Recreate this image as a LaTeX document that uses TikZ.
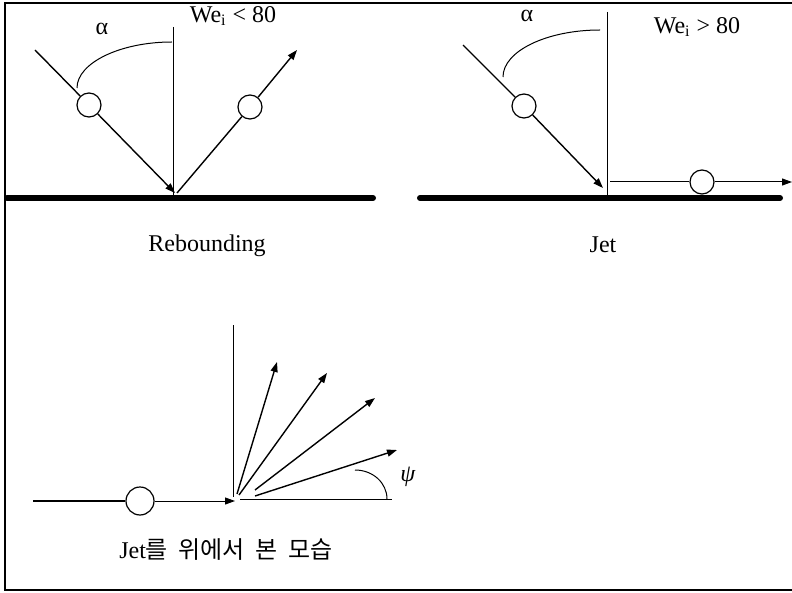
\documentclass[tikz,border=0pt]{standalone}
\usepackage{fontspec}
\setmainfont{Liberation Serif}
\newfontfamily\kofont{Noto Sans CJK KR}
\usepackage{tikz}
\usetikzlibrary{positioning,arrows.meta}

\begin{document}
\begin{tikzpicture}[x=0.5pt, y=-0.5pt,
    font=\fontsize{12}{14}\selectfont,
    drop/.style={draw, circle, minimum size=12pt, inner sep=0pt, line width=0.6pt},
    ground/.style={line width=3pt, line cap=round},
    path/.style={line width=0.7pt},
    axis/.style={line width=0.5pt},
    tip/.style={-{Triangle[length=5pt, width=3.5pt]}}]
\useasboundingbox (0,0) rectangle (792,593);

% Frame
\draw[line width=0.8pt] (792,3) -- (5,3) -- (5,590) -- (792,590);

% Rebounding
\draw[ground] (7,198) -- (373,198);
\draw[axis] (173,27) -- (173,195);
\coordinate (rin) at (35,50);
\node[drop] (rdrop1) at (89,105) {};
\coordinate (rhit) at (175,193);
\node[drop] (rdrop2) at (250,107) {};
\coordinate (rout) at (297,50);
\draw[path] (rin) -- (rdrop1);
\draw[path, tip] (rdrop1) -- (rhit);
\draw[path] (177,193) -- (rdrop2);
\draw[path, tip] (rdrop2) -- (rout);
\draw[axis] (77,88) .. controls (77,63) and (120,42) .. (172,42);
\node (ralpha) at (102,29) {α};
\node (rwe) at (233,16) {We\textsubscript{i} < 80};
\node (rlabel) at (207,246) {Rebounding};

% Jet
\draw[ground] (420,198) -- (780,198);
\draw[axis] (607,12) -- (607,195);
\coordinate (jin) at (463,45);
\node[drop] (jdrop1) at (524,106) {};
\coordinate (jhit) at (603,188);
\draw[path] (jin) -- (jdrop1);
\draw[path, tip] (jdrop1) -- (jhit);
\coordinate (jstart) at (610,182);
\node[drop] (jdrop2) at (702,182) {};
\coordinate (jout) at (792,182);
\draw[axis] (jstart) -- (jdrop2);
\draw[axis, tip] (jdrop2) -- (jout);
\draw[axis] (503,77) .. controls (503,51) and (547,30) .. (600,30);
\node (jalpha) at (527,16) {α};
\node (jwe) at (697,27) {We\textsubscript{i} > 80};
\node (jlabel) at (603,245) {Jet};

% Jet seen from above
\coordinate (tin) at (33,501);
\node[drop, minimum size=14pt] (tdrop) at (140,501) {};
\coordinate (thit) at (235,501);
\draw[path] (tin) -- (tdrop);
\draw[axis, tip] (tdrop) -- (thit);
\draw[axis] (233,325) -- (233,497);
\draw[axis] (240,499) -- (392,499);
\draw[path, tip] (237,494) -- (277,362);
\draw[path, tip] (239,495) -- (327,373);
\draw[path, tip] (255,490) -- (375,398);
\draw[path, tip] (255,496) -- (397,450);
\draw[axis] (355,470) .. controls (373,470) and (387,483) .. (387,499);
\node (tpsi) at (408,477) {\textit{ψ}};
\node (tlabel) at (226,550) {Jet{\kofont 를 \ 위에서 \ 본 \ 모습}};
\end{tikzpicture}
\end{document}
